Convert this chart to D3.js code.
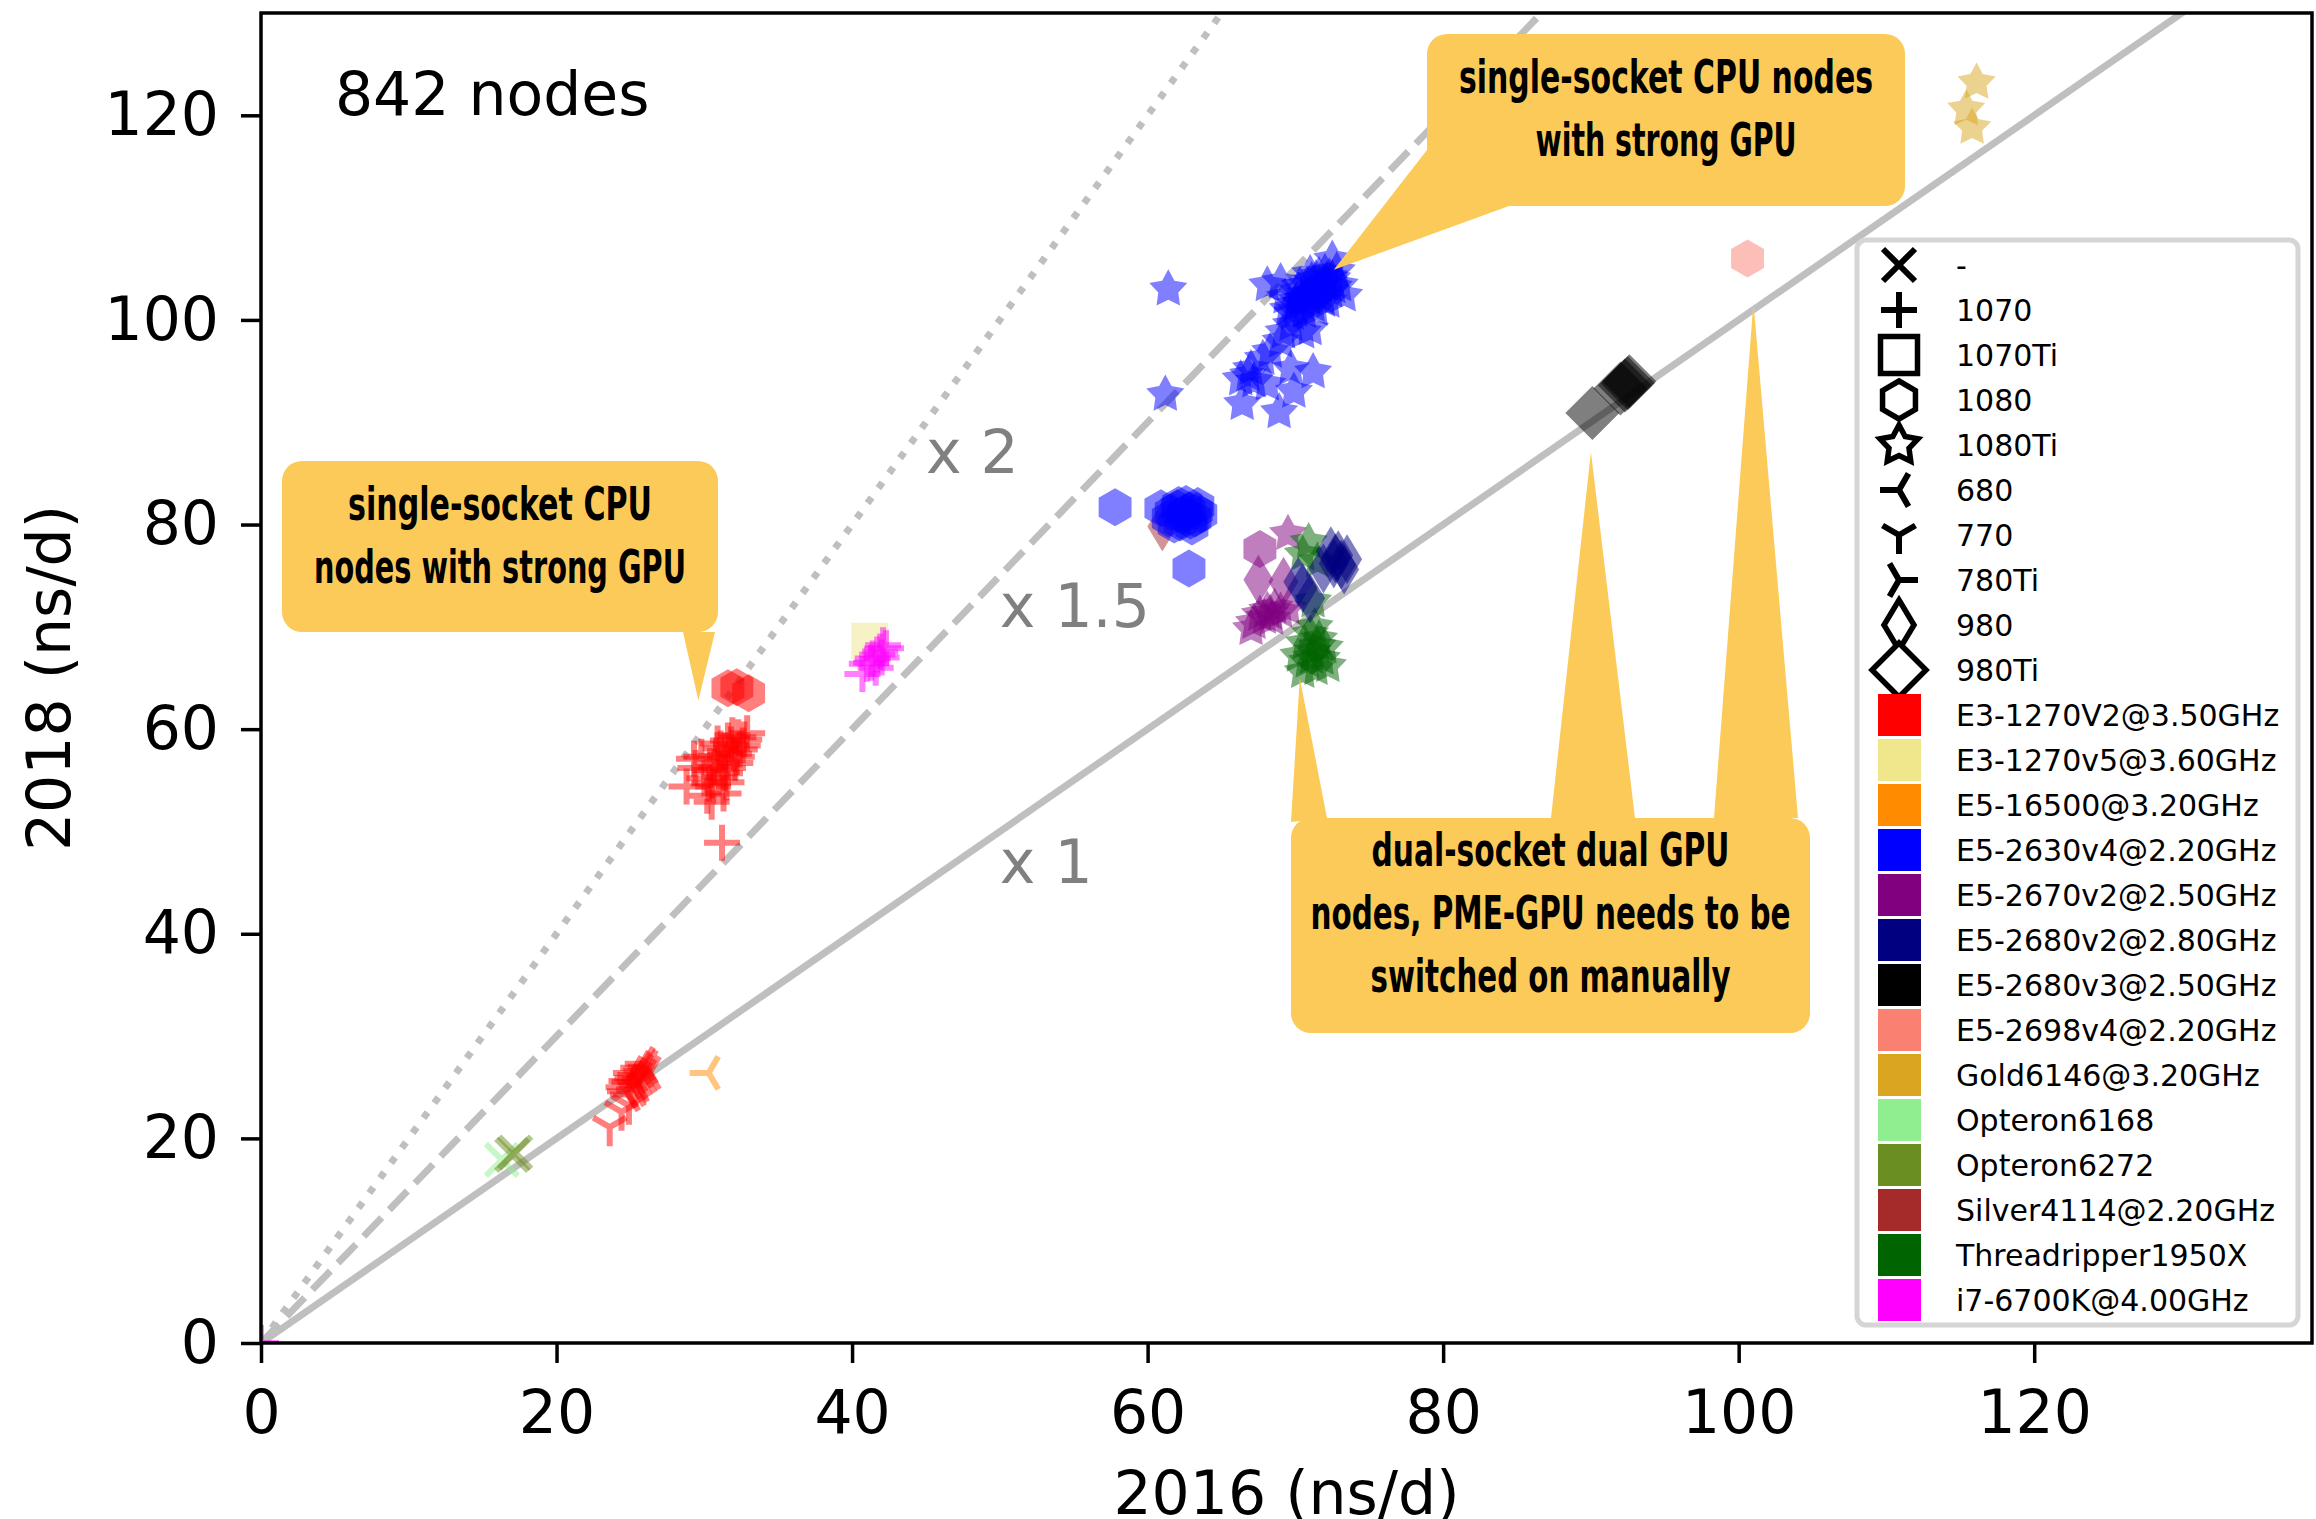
<!DOCTYPE html>
<html>
<head>
<meta charset="utf-8">
<script src="https://cdnjs.cloudflare.com/ajax/libs/d3/7.8.5/d3.min.js"></script>
<style>
  body { margin: 0; background: #fff; }
  text { font-family: "DejaVu Sans", sans-serif; }
</style>
</head>
<body>
<div id="chart"></div>
<script>
// ---- data (2016 vs 2018 ns/d per node) ----
var gpuNames = ["-", "1070", "1070Ti", "1080", "1080Ti", "680", "770", "780Ti", "980", "980Ti"];
var cpuNames = ["E3-1270V2@3.50GHz", "E3-1270v5@3.60GHz", "E5-16500@3.20GHz", "E5-2630v4@2.20GHz",
  "E5-2670v2@2.50GHz", "E5-2680v2@2.80GHz", "E5-2680v3@2.50GHz", "E5-2698v4@2.20GHz",
  "Gold6146@3.20GHz", "Opteron6168", "Opteron6272", "Silver4114@2.20GHz",
  "Threadripper1950X", "i7-6700K@4.00GHz"];
var xTicks = [0, 20, 40, 60, 80, 100, 120];
var yTicks = [0, 20, 40, 60, 80, 100, 120];
var ratios = [1, 1.5, 2];

var opt6168_none = [[16.3, 17.9]];
var opt6272_none = [[17.0, 18.4], [17.2, 18.6]];
var e3v2_680 = [[25.0, 25.5], [25.4, 26.2], [25.8, 26.6], [26.1, 27.0], [24.6, 25.0], [25.2, 25.9],
  [25.6, 26.9], [24.9, 24.3], [25.5, 25.2], [26.3, 26.4], [25.1, 26.4], [25.7, 25.8], [24.8, 25.6],
  [25.3, 24.8], [26.0, 26.1], [25.9, 27.3], [25.4, 25.5], [24.7, 24.6]];
var e3v2_770 = [[23.6, 21.1], [24.9, 23.2], [24.4, 22.6]];
var e516500_680 = [[30.3, 26.4]];
var e3v2_1070 = [[31.8, 58.5], [32.3, 59.2], [32.0, 57.6], [31.4, 57.9], [32.6, 58.4], [31.2, 56.8],
  [30.8, 57.4], [31.6, 56.2], [30.4, 56.0], [30.0, 55.2], [30.6, 54.4], [31.0, 55.3], [30.2, 53.5],
  [31.5, 54.8], [32.9, 59.6], [30.9, 58.6], [29.8, 57.3], [32.1, 56.7], [30.5, 52.9], [31.3, 53.7],
  [32.4, 58.0], [31.9, 59.4], [32.7, 59.0], [31.6, 58.9], [31.1, 58.1], [32.2, 57.3], [30.7, 56.3],
  [31.4, 55.7], [30.3, 54.7], [29.4, 56.2],
  [28.8, 54.4], [31.2, 48.9], [29.3, 57.1]];
var e3v2_1080 = [[31.6, 64.0], [33.0, 63.5], [32.2, 64.1]];
var e3v5_1070Ti = [[41.2, 68.6]];
var i7_1070 = [[41.4, 66.9], [41.9, 67.6], [42.3, 67.9], [41.0, 66.4], [41.6, 66.0], [42.0, 67.0],
  [41.7, 67.3], [42.1, 68.2], [41.3, 66.5], [40.7, 65.4], [0, 0]];
var e5v4_1080Ti = [[69.5, 101.0], [70.0, 101.5], [70.5, 102.0], [71.0, 102.5], [71.5, 103.0],
  [72.0, 103.5], [72.5, 104.0], [70.2, 102.8], [70.8, 103.4], [71.4, 104.0], [72.0, 104.6],
  [69.8, 100.6], [71.2, 101.4], [71.8, 102.2], [72.4, 102.8], [70.6, 100.8], [69.3, 102.2],
  [71.0, 104.5], [72.8, 104.8], [72.2, 101.8], [70.4, 101.6], [70.9, 102.1], [71.3, 102.6],
  [71.7, 103.2], [72.1, 103.8], [70.1, 101.9], [70.7, 102.5], [71.6, 104.3], [72.3, 104.2],
  [70.3, 103.3], [71.1, 103.8], [71.9, 101.9], [70.0, 100.9], [72.6, 103.2], [71.4, 101.0],
  [61.4, 103.0], [61.2, 92.7], [68.1, 103.4], [69.0, 103.7], [72.5, 105.9], [73.3, 102.4],
  [73.0, 103.4], [70.5, 98.8], [69.2, 98.8], [69.7, 99.5], [71.0, 99.1], [69.0, 97.9],
  [68.3, 96.9], [67.8, 96.2], [66.8, 94.6], [67.2, 94.0], [68.1, 93.7], [69.7, 95.2],
  [71.2, 94.9], [69.9, 93.0], [66.4, 91.8], [68.9, 91.0], [66.3, 94.2], [67.0, 95.2]];
var e5v4_1080 = [[57.8, 81.7], [60.9, 81.6], [62.8, 75.7], [61.6, 81.2], [62.0, 81.6], [62.4, 80.8],
  [62.8, 81.4], [63.2, 80.6], [63.6, 81.0], [62.2, 80.2], [63.0, 79.8], [61.8, 80.0], [62.6, 82.0],
  [63.4, 81.8], [61.4, 80.6], [62.5, 81.1], [62.9, 80.4], [62.1, 81.9], [63.3, 81.3]];
var silver_980 = [[61.0, 79.8]];
var e5v2a_1080 = [[67.6, 77.6]];
var e5v2a_980 = [[67.5, 74.6], [69.2, 74.4]];
var e5v2a_1080Ti = [[69.5, 79.1], [67.6, 71.2], [68.1, 71.6], [68.6, 71.9], [67.2, 70.4],
  [68.4, 70.8], [69.0, 71.5], [67.0, 69.8], [69.5, 71.8], [67.9, 70.9], [68.3, 71.3]];
var e5v2b_980 = [[72.7, 76.7], [73.1, 76.1], [72.4, 77.4], [73.5, 76.6], [71.9, 75.7], [72.9, 77.0],
  [73.3, 75.6], [72.6, 76.2], [70.5, 73.8], [71.0, 72.8], [70.2, 74.4]];
var tr_1080Ti = [[70.9, 78.3], [70.5, 77.1], [71.2, 72.5], [71.5, 76.4], [71.2, 67.6], [70.6, 68.4],
  [71.6, 68.8], [70.8, 66.6], [71.8, 66.9], [71.0, 69.3], [70.2, 67.2], [72.0, 68.0], [71.4, 65.9],
  [70.5, 65.6], [72.2, 66.2], [71.3, 70.0], [71.1, 67.0], [71.5, 68.1]];
var e5v3_980Ti = [[92.3, 93.6], [92.6, 94.0], [92.0, 93.3], [92.5, 93.8], [90.1, 90.9]];
var e5v4b_1080 = [[100.6, 106.0]];
var gold_1080Ti = [[116.1, 123.2], [115.4, 120.6], [115.8, 118.8]];

var series = [
  {cpu: "Opteron6168", gpu: "-", pts: opt6168_none},
  {cpu: "Opteron6272", gpu: "-", pts: opt6272_none},
  {cpu: "E3-1270V2@3.50GHz", gpu: "680", pts: e3v2_680},
  {cpu: "E3-1270V2@3.50GHz", gpu: "770", pts: e3v2_770},
  {cpu: "E5-16500@3.20GHz", gpu: "680", pts: e516500_680},
  {cpu: "E3-1270V2@3.50GHz", gpu: "1070", pts: e3v2_1070},
  {cpu: "E3-1270V2@3.50GHz", gpu: "1080", pts: e3v2_1080},
  {cpu: "E3-1270v5@3.60GHz", gpu: "1070Ti", pts: e3v5_1070Ti},
  {cpu: "i7-6700K@4.00GHz", gpu: "1070", pts: i7_1070},
  {cpu: "Silver4114@2.20GHz", gpu: "980", pts: silver_980},
  {cpu: "E5-2630v4@2.20GHz", gpu: "1080", pts: e5v4_1080},
  {cpu: "E5-2630v4@2.20GHz", gpu: "1080Ti", pts: e5v4_1080Ti},
  {cpu: "E5-2670v2@2.50GHz", gpu: "1080", pts: e5v2a_1080},
  {cpu: "E5-2670v2@2.50GHz", gpu: "980", pts: e5v2a_980},
  {cpu: "E5-2670v2@2.50GHz", gpu: "1080Ti", pts: e5v2a_1080Ti},
  {cpu: "Threadripper1950X", gpu: "1080Ti", pts: tr_1080Ti},
  {cpu: "E5-2680v2@2.80GHz", gpu: "980", pts: e5v2b_980},
  {cpu: "E5-2680v3@2.50GHz", gpu: "980Ti", pts: e5v3_980Ti},
  {cpu: "E5-2698v4@2.20GHz", gpu: "1080", pts: e5v4b_1080},
  {cpu: "Gold6146@3.20GHz", gpu: "1080Ti", pts: gold_1080Ti}
];

// ---- styles ----
var cpuColor = d3.scaleOrdinal().domain(cpuNames).range([
  "red", "khaki", "darkorange", "blue", "purple", "navy", "black", "salmon",
  "goldenrod", "lightgreen", "olivedrab", "brown", "darkgreen", "magenta"]);

var width = 2316, height = 1519;
var axL = 261, axR = 2312, axT = 13, axB = 1343;

var svg = d3.select("#chart").append("svg")
  .attr("width", width)
  .attr("height", height);

var x = d3.scaleLinear().domain([0, 138.8]).range([axL, axR]);
var y = d3.scaleLinear().domain([0, 130]).range([axB, axT]);

svg.append("clipPath").attr("id", "plotclip")
  .append("rect")
  .attr("x", axL).attr("y", axT)
  .attr("width", axR - axL).attr("height", axB - axT);

// marker shapes, pixel units, centred on 0,0
function poly(pts) {
  return "M" + pts.map(function(p) { return (+p[0]).toFixed(2) + "," + (+p[1]).toFixed(2); }).join("L") + "Z";
}
function spokes(h, angles) {
  return angles.map(function(a) {
    var r = a * Math.PI / 180;
    return "M0,0L" + (h * Math.cos(r)).toFixed(2) + "," + (-h * Math.sin(r)).toFixed(2);
  }).join("");
}
var lineMarkers = ["-", "1070", "680", "770", "780Ti"];

function markerPath(gpu) {
  var i, pts = [];
  if (gpu == "-") { var h = 16; return "M" + -h + "," + -h + "L" + h + "," + h + "M" + -h + "," + h + "L" + h + "," + -h; }
  if (gpu == "1070") { var p = 18; return "M" + -p + ",0L" + p + ",0M0," + -p + "L0," + p; }
  if (gpu == "1070Ti") { var s = 18.5; return poly([[-s, -s], [s, -s], [s, s], [-s, s]]); }
  if (gpu == "1080") {
    for (i = 0; i < 6; i++) { var a = (-90 + 60 * i) * Math.PI / 180; pts.push([19 * Math.cos(a), 19 * Math.sin(a)]); }
    return poly(pts);
  }
  if (gpu == "1080Ti") {
    for (i = 0; i < 10; i++) {
      var b = (-90 + 36 * i) * Math.PI / 180, r = i % 2 ? 10.5 : 20;
      pts.push([r * Math.cos(b), r * Math.sin(b)]);
    }
    return poly(pts);
  }
  if (gpu == "680") return spokes(19, [180, 60, -60]);
  if (gpu == "770") return spokes(19, [-90, 150, 30]);
  if (gpu == "780Ti") return spokes(19, [0, 120, -120]);
  if (gpu == "980") return poly([[0, -25], [15, 0], [0, 25], [-15, 0]]);
  if (gpu == "980Ti") return poly([[0, -27], [27, 0], [0, 27], [-27, 0]]);
}

// reference lines x1, x1.5, x2
var refDash = {1: null, 1.5: "26,11", 2: "7,11.5"};
svg.append("g").attr("clip-path", "url(#plotclip)")
  .selectAll("line").data(ratios).enter().append("line")
  .attr("x1", x(0)).attr("y1", y(0))
  .attr("x2", function(k) { return x(140 / k); })
  .attr("y2", y(140))
  .attr("stroke", "#bfbfbf")
  .attr("stroke-width", 7)
  .attr("stroke-dasharray", function(k) { return refDash[k]; });

svg.append("text").attr("x", x(45)).attr("y", y(85)).attr("font-size", 60).attr("fill", "#808080").text("x 2");
svg.append("text").attr("x", x(50)).attr("y", y(70)).attr("font-size", 60).attr("fill", "#808080").text("x 1.5");
svg.append("text").attr("x", x(50)).attr("y", y(45)).attr("font-size", 60).attr("fill", "#808080").text("x 1");

// scatter points
var plot = svg.append("g").attr("clip-path", "url(#plotclip)");
series.forEach(function(s) {
  var isLine = lineMarkers.indexOf(s.gpu) >= 0;
  plot.append("g").selectAll("path")
    .data(s.pts).enter().append("path")
    .attr("transform", function(d) { return "translate(" + x(d[0]) + "," + y(d[1]) + ")"; })
    .attr("d", markerPath(s.gpu))
    .attr("fill", isLine ? "none" : cpuColor(s.cpu))
    .attr("stroke", isLine ? cpuColor(s.cpu) : "none")
    .attr("stroke-width", isLine ? 6 : 0)
    .attr("opacity", 0.5);
});

// axes
var xAxis = svg.append("g").attr("transform", "translate(0," + axB + ")")
  .call(d3.axisBottom(x).tickValues(xTicks).tickSize(20).tickPadding(27));
var yAxis = svg.append("g").attr("transform", "translate(" + axL + ",0)")
  .call(d3.axisLeft(y).tickValues(yTicks).tickSize(20).tickPadding(22));
[xAxis, yAxis].forEach(function(g) {
  g.select(".domain").remove();
  g.selectAll(".tick line").attr("stroke", "#000").attr("stroke-width", 3.5);
  g.selectAll(".tick text").attr("font-size", 60).attr("fill", "#000")
    .attr("font-family", "DejaVu Sans, sans-serif");
});

svg.append("rect")
  .attr("x", axL).attr("y", axT)
  .attr("width", axR - axL).attr("height", axB - axT)
  .attr("fill", "none").attr("stroke", "#000").attr("stroke-width", 3.5);

svg.append("text").attr("x", (axL + axR) / 2).attr("y", 1514)
  .attr("text-anchor", "middle").attr("font-size", 60).text("2016 (ns/d)");
svg.append("text").attr("transform", "translate(70," + (axT + axB) / 2 + ") rotate(-90)")
  .attr("text-anchor", "middle").attr("font-size", 60).text("2018 (ns/d)");

svg.append("text").attr("x", x(5)).attr("y", y(120)).attr("font-size", 60).text("842 nodes");

// legend
var leg = svg.append("g");
leg.append("rect")
  .attr("x", 1857).attr("y", 240).attr("width", 441).attr("height", 1085)
  .attr("rx", 9).attr("fill", "#fff").attr("fill-opacity", 0.9)
  .attr("stroke", "#d5d5d5").attr("stroke-width", 5);

var rowY = function(i) { return 265 + 45 * i; };
gpuNames.forEach(function(g, i) {
  var isLine = lineMarkers.indexOf(g) >= 0;
  leg.append("path")
    .attr("transform", "translate(1899," + rowY(i) + ")")
    .attr("d", markerPath(g))
    .attr("fill", isLine ? "none" : "#fff")
    .attr("stroke", "#000")
    .attr("stroke-width", isLine ? 6 : 5.5)
    .attr("stroke-linejoin", "miter");
  leg.append("text").attr("x", 1956).attr("y", rowY(i) + 11).attr("font-size", 30).text(g);
});
cpuNames.forEach(function(c, j) {
  var i = j + gpuNames.length;
  leg.append("rect")
    .attr("x", 1878).attr("y", rowY(i) - 21).attr("width", 43).attr("height", 42)
    .attr("fill", cpuColor(c));
  leg.append("text").attr("x", 1956).attr("y", rowY(i) + 11).attr("font-size", 30).text(c);
});

// callouts (boxes in px, pointer tips in data units)
var calloutFill = "#fcca58";
var callouts = [
  {box: [282, 461, 436, 171], tips: [[[683, 632], [715, 632], [29.6, 62.8]]],
    lines: [["single-socket CPU", 520, 304], ["nodes with strong GPU", 583, 372]]},
  {box: [1427, 34, 478, 172], tips: [[[1427, 150], [1509, 206], [72.6, 104.9]]],
    lines: [["single-socket CPU nodes", 93, 414], ["with strong GPU", 156, 261]]},
  {box: [1291, 818, 519, 215], tips: [[[1291, 822], [1327, 818], [70.3, 65.0]],
    [[1551, 818], [1635, 818], [90.0, 87.1]], [[1714, 818], [1798, 818], [101.0, 101.7]]],
    lines: [["dual-socket dual GPU", 866, 358], ["nodes, PME-GPU needs to be", 929, 480],
      ["switched on manually", 992, 360]]}
];
callouts.forEach(function(c) {
  var g = svg.append("g");
  c.tips.forEach(function(t) {
    g.append("path")
      .attr("d", poly([t[0], t[1], [x(t[2][0]), y(t[2][1])]]))
      .attr("fill", calloutFill);
  });
  g.append("rect")
    .attr("x", c.box[0]).attr("y", c.box[1]).attr("width", c.box[2]).attr("height", c.box[3])
    .attr("rx", 20).attr("fill", calloutFill);
  var cx = c.box[0] + c.box[2] / 2;
  c.lines.forEach(function(l) {
    g.append("text")
      .attr("x", cx - l[2] / 2).attr("y", l[1])
      .attr("font-size", 46).attr("font-weight", "bold")
      .attr("font-family", "'DejaVu Sans Condensed', 'Liberation Sans Narrow', 'DejaVu Sans', sans-serif")
      .attr("textLength", l[2]).attr("lengthAdjust", "spacingAndGlyphs")
      .text(l[0]);
  });
});
</script>
</body>
</html>
